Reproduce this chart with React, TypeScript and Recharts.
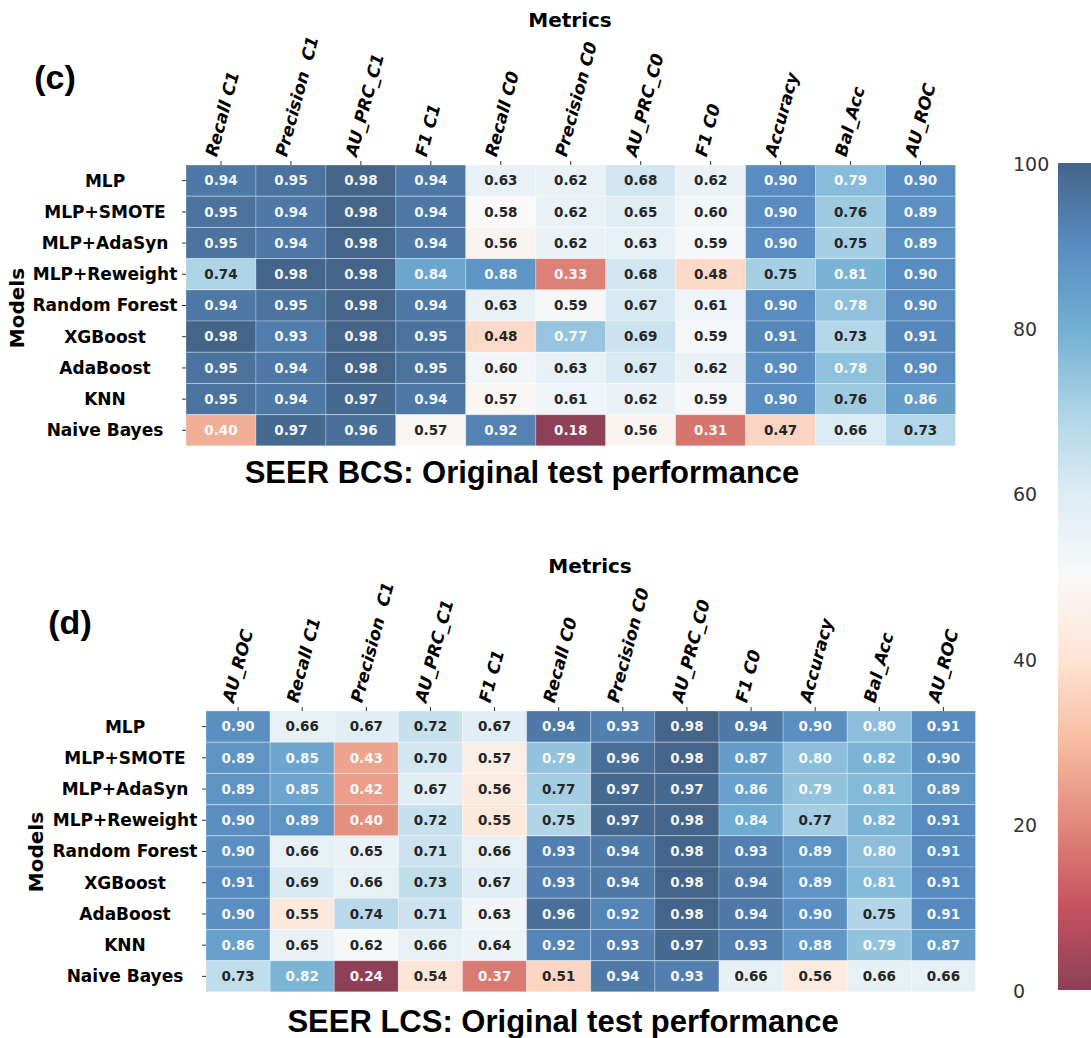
import React from "react";
import { Bar, BarChart, Cell, LabelList, XAxis, YAxis } from "recharts";

const models = [
  "MLP",
  "MLP+SMOTE",
  "MLP+AdaSyn",
  "MLP+Reweight",
  "Random Forest",
  "XGBoost",
  "AdaBoost",
  "KNN",
  "Naive Bayes",
];

const bcsMetrics = [
  "Recall C1", "Precision  C1", "AU_PRC_C1", "F1 C1", "Recall C0", "Precision C0",
  "AU_PRC_C0", "F1 C0", "Accuracy", "Bal_Acc", "AU_ROC",
];

const bcsValues = [
  [0.94, 0.95, 0.98, 0.94, 0.63, 0.62, 0.68, 0.62, 0.9, 0.79, 0.9],
  [0.95, 0.94, 0.98, 0.94, 0.58, 0.62, 0.65, 0.6, 0.9, 0.76, 0.89],
  [0.95, 0.94, 0.98, 0.94, 0.56, 0.62, 0.63, 0.59, 0.9, 0.75, 0.89],
  [0.74, 0.98, 0.98, 0.84, 0.88, 0.33, 0.68, 0.48, 0.75, 0.81, 0.9],
  [0.94, 0.95, 0.98, 0.94, 0.63, 0.59, 0.67, 0.61, 0.9, 0.78, 0.9],
  [0.98, 0.93, 0.98, 0.95, 0.48, 0.77, 0.69, 0.59, 0.91, 0.73, 0.91],
  [0.95, 0.94, 0.98, 0.95, 0.6, 0.63, 0.67, 0.62, 0.9, 0.78, 0.9],
  [0.95, 0.94, 0.97, 0.94, 0.57, 0.61, 0.62, 0.59, 0.9, 0.76, 0.86],
  [0.4, 0.97, 0.96, 0.57, 0.92, 0.18, 0.56, 0.31, 0.47, 0.66, 0.73],
];

const lcsMetrics = [
  "AU_ROC", "Recall C1", "Precision  C1", "AU_PRC_C1", "F1 C1", "Recall C0",
  "Precision C0", "AU_PRC_C0", "F1 C0", "Accuracy", "Bal_Acc", "AU_ROC",
];

const lcsValues = [
  [0.9, 0.66, 0.67, 0.72, 0.67, 0.94, 0.93, 0.98, 0.94, 0.9, 0.8, 0.91],
  [0.89, 0.85, 0.43, 0.7, 0.57, 0.79, 0.96, 0.98, 0.87, 0.8, 0.82, 0.9],
  [0.89, 0.85, 0.42, 0.67, 0.56, 0.77, 0.97, 0.97, 0.86, 0.79, 0.81, 0.89],
  [0.9, 0.89, 0.4, 0.72, 0.55, 0.75, 0.97, 0.98, 0.84, 0.77, 0.82, 0.91],
  [0.9, 0.66, 0.65, 0.71, 0.66, 0.93, 0.94, 0.98, 0.93, 0.89, 0.8, 0.91],
  [0.91, 0.69, 0.66, 0.73, 0.67, 0.93, 0.94, 0.98, 0.94, 0.89, 0.81, 0.91],
  [0.9, 0.55, 0.74, 0.71, 0.63, 0.96, 0.92, 0.98, 0.94, 0.9, 0.75, 0.91],
  [0.86, 0.65, 0.62, 0.66, 0.64, 0.92, 0.93, 0.97, 0.93, 0.88, 0.79, 0.87],
  [0.73, 0.82, 0.24, 0.54, 0.37, 0.51, 0.94, 0.93, 0.66, 0.56, 0.66, 0.66],
];

const colorbarTicks = [0, 20, 40, 60, 80, 100];

// matplotlib RdBu anchors, drawn with alpha 0.75 over white
const RDBU = [
  "#67001f", "#b2182b", "#d6604d", "#f4a582", "#fddbc7", "#f7f7f7",
  "#d1e5f0", "#92c5de", "#4393c3", "#2166ac", "#053061",
];
const ALPHA = 0.75;

const hexRgb = (h: string) => {
  const n = parseInt(h.slice(1), 16);
  return [(n >> 16) & 255, (n >> 8) & 255, n & 255];
};
const RDBU_RGB = RDBU.map(hexRgb);

function rdbu(t: number) {
  const p = Math.max(0, Math.min(1, t)) * 10;
  const i = Math.min(9, Math.floor(p));
  const f = p - i;
  return RDBU_RGB[i].map((v, k) => v + (RDBU_RGB[i + 1][k] - v) * f);
}

const washed = (rgb: number[]) => {
  const [r, g, b] = rgb.map((v) => Math.round(v * ALPHA + 255 * (1 - ALPHA)));
  return `rgb(${r},${g},${b})`;
};

// same rule seaborn uses to pick the annotation colour
const luminance = (rgb: number[]) => {
  const lin = rgb.map((v) => {
    const c = v / 255;
    return c <= 0.03928 ? c / 12.92 : Math.pow((c + 0.055) / 1.055, 2.4);
  });
  return 0.2126 * lin[0] + 0.7152 * lin[1] + 0.0722 * lin[2];
};

// one stable accessor per column: every cell is one unit wide on the x scale
const UNIT_KEYS = Array.from({ length: 12 }, () => (_row: unknown) => 1);

const FONT = "'DejaVu Sans', sans-serif";
const TITLE_FONT = "'Liberation Sans', Arial, sans-serif";

function ModelTick(props: any) {
  const { x, y, payload } = props;
  return (
    <text
      x={x - 77}
      y={y}
      dy="0.35em"
      textAnchor="middle"
      fontFamily={FONT}
      fontWeight="bold"
      fontSize={17}
      fill="#000"
    >
      {payload.value}
    </text>
  );
}

function MetricTick(props: any) {
  const { x, y, payload, metrics } = props;
  const label = metrics[Math.floor(payload.value)];
  return (
    <g transform={`translate(${x - 10},${y - 5}) rotate(-75)`}>
      <text
        x={0}
        y={0}
        dy="0.35em"
        textAnchor="start"
        fontFamily={FONT}
        fontWeight="bold"
        fontStyle="italic"
        fontSize={17}
        fill="#000"
        style={{ whiteSpace: "pre" }}
      >
        {label}
      </text>
    </g>
  );
}

interface PanelProps {
  left: number;
  top: number;
  metrics: string[];
  values: number[][];
}

function Heatmap({ left, top, metrics, values }: PanelProps) {
  const flat = values.flat();
  const lo = Math.min(...flat);
  const hi = Math.max(...flat);
  const norm = (v: number) => (v - lo) / (hi - lo);

  const rows = models.map((model, r) => {
    const row: Record<string, string | number> = { model };
    metrics.forEach((_, c) => {
      row[`c${c}`] = values[r][c];
    });
    return row;
  });
  const ticks = metrics.map((_, c) => c + 0.5);

  const renderValue = (p: any) => {
    const { x, y, width, height, value } = p;
    const v = Number(value);
    const dark = luminance(rdbu(norm(v))) > 0.408;
    return (
      <text
        x={Number(x) + Number(width) / 2}
        y={Number(y) + Number(height) / 2}
        dy="0.36em"
        textAnchor="middle"
        fontFamily={FONT}
        fontWeight="bold"
        fontSize={13.5}
        fill={dark ? "#262626" : "rgba(255,255,255,0.95)"}
      >
        {v.toFixed(2)}
      </text>
    );
  };

  return (
    <div style={{ position: "absolute", left, top }}>
      <BarChart
        width={1000}
        height={460}
        data={rows}
        layout="vertical"
        margin={{ top: 45, right: 44.5, bottom: 14, left: 0 }}
        barCategoryGap={0}
        barGap={0}
      >
        <XAxis
          type="number"
          orientation="top"
          domain={[0, metrics.length]}
          ticks={ticks}
          interval={0}
          height={120}
          axisLine={false}
          tickSize={4}
          tickMargin={0}
          tickLine={{ stroke: "#333" }}
          tick={<MetricTick metrics={metrics} />}
        />
        <YAxis
          type="category"
          dataKey="model"
          width={186}
          interval={0}
          axisLine={false}
          tickSize={4}
          tickMargin={0}
          tickLine={{ stroke: "#333" }}
          tick={<ModelTick />}
        />
        {metrics.map((_, c) => (
          <Bar key={c} dataKey={UNIT_KEYS[c]} stackId="grid" isAnimationActive={false}>
            {rows.map((_row, r) => (
              <Cell
                key={r}
                fill={washed(rdbu(norm(values[r][c])))}
                stroke="rgba(255,255,255,0.25)"
                strokeWidth={1}
              />
            ))}
            <LabelList dataKey={`c${c}`} content={renderValue} />
          </Bar>
        ))}
      </BarChart>
    </div>
  );
}

function ColorbarTick(props: any) {
  const { x, y, payload } = props;
  return (
    <text x={x - 45} y={y + 1} dy="0.35em" textAnchor="start" fontFamily={FONT} fontSize={19} fill="#333">
      {payload.value}
    </text>
  );
}

function Colorbar() {
  // stops must run top (100) to bottom (0) in increasing offset order
  const stops = [...RDBU_RGB].reverse();
  return (
    <div style={{ position: "absolute", left: 1000, top: 140 }}>
      <BarChart
        width={91}
        height={900}
        data={[{ level: 100 }]}
        margin={{ top: 23, right: 0, bottom: 50, left: 0 }}
        barCategoryGap={0}
      >
        <defs>
          <linearGradient id="cbar" x1="0" y1="0" x2="0" y2="1">
            {stops.map((rgb, i) => (
              <stop key={i} offset={`${i * 10}%`} stopColor={washed(rgb)} />
            ))}
          </linearGradient>
        </defs>
        <XAxis type="category" hide />
        <YAxis
          type="number"
          domain={[0, 100]}
          ticks={colorbarTicks}
          width={58}
          axisLine={false}
          tickLine={false}
          tickSize={0}
          tickMargin={0}
          tick={<ColorbarTick />}
        />
        <Bar dataKey="level" fill="url(#cbar)" isAnimationActive={false} />
      </BarChart>
    </div>
  );
}

const centered = (x: number, y: number, extra: React.CSSProperties = {}): React.CSSProperties => ({
  position: "absolute",
  left: x,
  top: y,
  transform: "translate(-50%, -50%)",
  whiteSpace: "nowrap",
  lineHeight: 1,
  color: "#000",
  ...extra,
});

export default function App() {
  return (
    <div
      style={{
        position: "absolute",
        left: 0,
        top: 0,
        width: 1091,
        height: 1038,
        background: "#fff",
        overflow: "hidden",
      }}
    >
      <Heatmap left={0} top={0} metrics={bcsMetrics} values={bcsValues} />
      <Heatmap left={19.5} top={546} metrics={lcsMetrics} values={lcsValues} />
      <Colorbar />

      <div style={centered(570, 20, { fontFamily: FONT, fontWeight: "bold", fontSize: 20 })}>Metrics</div>
      <div style={centered(590, 566, { fontFamily: FONT, fontWeight: "bold", fontSize: 20 })}>Metrics</div>

      <div style={centered(55, 77, { fontFamily: TITLE_FONT, fontWeight: "bold", fontSize: 34 })}>(c)</div>
      <div style={centered(70, 622, { fontFamily: TITLE_FONT, fontWeight: "bold", fontSize: 34 })}>(d)</div>

      <div style={centered(17, 308, { fontFamily: FONT, fontWeight: "bold", fontSize: 20, transform: "translate(-50%, -50%) rotate(-90deg)" })}>
        Models
      </div>
      <div style={centered(36, 852, { fontFamily: FONT, fontWeight: "bold", fontSize: 20, transform: "translate(-50%, -50%) rotate(-90deg)" })}>
        Models
      </div>

      <div style={centered(522, 472, { fontFamily: TITLE_FONT, fontWeight: "bold", fontSize: 31 })}>
        SEER BCS: Original test performance
      </div>
      <div style={centered(563, 1021, { fontFamily: TITLE_FONT, fontWeight: "bold", fontSize: 31 })}>
        SEER LCS: Original test performance
      </div>
    </div>
  );
}
